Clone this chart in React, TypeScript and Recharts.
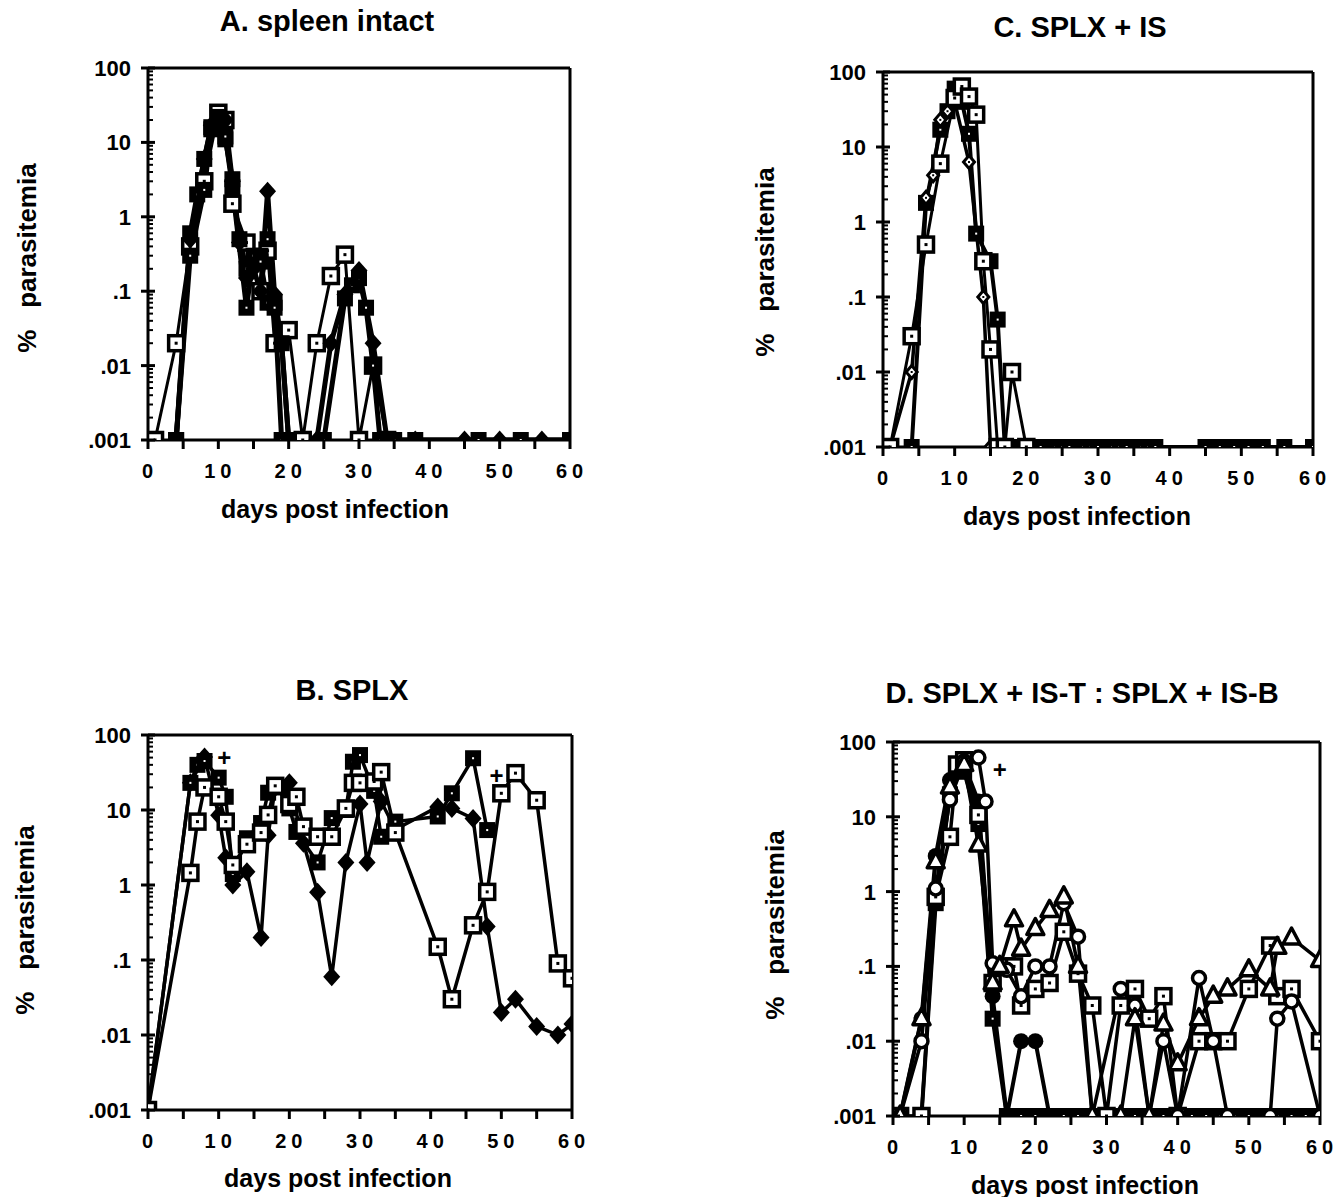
import React from 'react';
import { LineChart, Line, XAxis, YAxis, ReferenceLine, ReferenceDot } from 'recharts';

type Pt = [number, number];

// A. spleen intact
const aOpenSquare: Pt[] = [[1, .001], [4, .02], [6, .4], [8, 3], [10, 25], [11, 20], [12, 1.5], [14, .45], [16, .1], [17, .35], [18, .02], [20, .03], [22, .001], [24, .02], [26, .16], [28, .31], [30, .001], [32, .01], [34, .001]];
const aDiamond: Pt[] = [[4, .001], [6, .5], [8, 6], [9, 17], [10, 20], [11, 20], [12, 3], [13, .45], [14, .15], [15, .2], [16, .1], [17, 2.2], [18, .09], [19, .02], [20, .001], [24, .001], [26, .02], [28, .09], [30, .19], [32, .02], [34, .001], [38, .001], [45, .001], [50, .001], [56, .001], [60, .001]];
const aFilledSquare: Pt[] = [[4, .001], [6, .3], [8, 2.3], [9, 15], [10, 22], [11, 12], [12, 2.5], [14, .06], [15, .3], [16, .25], [17, .07], [18, .06], [19, .02], [20, .001], [25, .001], [28, .08], [29, .12], [30, .15], [31, .06], [32, .01], [33, .001], [35, .001], [38, .001], [47, .001], [53, .001], [60, .001]];
const aFilledSquare2: Pt[] = [[4, .001], [6, .6], [7, 2], [8, 6], [9, 16], [10, 18], [11, 11], [12, 3.2], [13, .5], [14, .2], [16, .3], [17, .5], [18, .07], [19, .001]];

// C. SPLX + IS
const cOpenSquare: Pt[] = [[1, .001], [4, .03], [6, .5], [8, 6], [10, 45], [11, 64], [12, 47], [13, 27], [14, .3], [15, .02], [16, .001], [17, .001], [18, .01], [20, .001]];
const cSmall: Pt[] = [[1, .001], [4, .01], [6, 2.1], [7, 4.2], [8, 23], [9, 30], [10, 40], [12, 6.3], [14, .1], [15, .001], [16, .001]];
const cFilledSquare: Pt[] = [[4, .001], [6, 1.8], [8, 17], [9, 30], [10, 60], [11, 40], [12, 15], [13, .7], [15, .3], [16, .05], [17, .001], [19, .001], [20, .001], [21, .001], [22, .001], [24, .001], [25, .001], [26, .001], [28, .001], [29, .001], [30, .001], [32, .001], [33, .001], [34, .001], [36, .001], [37, .001], [38, .001], [45, .001], [47, .001], [49, .001], [51, .001], [53, .001], [56, .001], [60, .001]];

// B. SPLX
const bDiamond: Pt[] = [[0, .001], [6, 23], [8, 51], [10, 8.5], [11, 2.3], [12, 1.0], [14, 1.5], [16, .2], [17, 4.6], [18, 20], [20, 23], [22, 3.6], [24, .8], [26, .06], [28, 2], [30, 12], [31, 2], [33, 13], [35, 5.5], [41, 11], [43, 10.5], [46, 7.7], [48, .28], [50, .02], [52, .03], [55, .013], [58, .01], [60, .014]];
const bOpenSquare: Pt[] = [[0, .001], [6, 1.45], [7, 7], [8, 20], [10, 15], [11, 7], [12, 1.85], [14, 3.5], [16, 5], [17, 8.6], [18, 21], [20, 12], [21, 15], [22, 6], [24, 4.4], [26, 4.4], [28, 10.5], [29, 23], [30, 23], [32, 24], [33, 32], [35, 5], [41, .15], [43, .03], [46, .29], [48, .81], [50, 16.7], [52, 31], [55, 13.5], [58, .09], [60, .057]];
const bFilledSquare: Pt[] = [[0, .001], [6, 23], [7, 40], [8, 45], [10, 27], [11, 15], [12, 1.4], [14, 4.2], [16, 6.7], [17, 17], [18, 21], [19, 20], [20, 10.5], [21, 5.1], [24, 2], [26, 7.8], [28, 10], [29, 44], [30, 54], [32, 18], [33, 4.4], [35, 7], [41, 8.2], [43, 16.7], [46, 49], [48, 5.4]];
const bDeaths: Pt[] = [[10.8, 50], [49.3, 28]];

// D. SPLX + IS-T : SPLX + IS-B
const dTriangle: Pt[] = [[1, .001], [4, .02], [6, 2.5], [8, 25], [10, 50], [12, 4.2], [14, .06], [15, .1], [17, .42], [18, .17], [20, .32], [22, .56], [24, .85], [26, .1], [28, .001], [32, .001], [34, .02], [36, .001], [38, .017], [40, .005], [43, .02], [45, .04], [47, .05], [50, .09], [53, .05], [54, .18], [56, .24], [60, .12]];
const dOpenCircle: Pt[] = [[1, .001], [4, .01], [6, 1.1], [8, 17], [10, 55], [12, 62], [13, 16], [14, .11], [16, .09], [18, .04], [20, .1], [22, .1], [24, .7], [26, .25], [28, .001], [32, .05], [34, .03], [36, .001], [38, .01], [40, .001], [43, .07], [45, .01], [47, .001], [53, .001], [54, .02], [56, .034], [60, .001]];
const dOpenSquare: Pt[] = [[1, .001], [4, .001], [6, .85], [8, 5.4], [9, 50], [10, 57], [12, 10.6], [14, .06], [16, .1], [17, .1], [18, .03], [20, .05], [22, .06], [24, .29], [26, .08], [28, .03], [30, .001], [32, .03], [34, .05], [36, .02], [38, .04], [40, .001], [43, .01], [45, .01], [47, .01], [50, .05], [53, .19], [54, .04], [56, .05], [60, .01]];
const dFilledCircle: Pt[] = [[1, .001], [4, .02], [6, 3], [8, 31], [10, 50], [12, 16], [14, .04], [16, .001], [18, .01], [20, .01], [22, .001]];
const dFilledSquare: Pt[] = [[4, .001], [6, .7], [8, 20], [9, 45], [10, 40], [12, 8], [14, .02], [16, .001], [18, .001], [20, .001], [22, .001], [24, .001], [26, .001], [28, .001], [30, .001], [32, .001], [34, .001], [36, .001], [38, .001], [40, .001], [42, .001], [44, .001], [46, .001], [48, .001], [50, .001], [52, .001], [54, .001], [56, .001], [58, .001], [60, .001]];
const dDeaths: Pt[] = [[15, 42]];

const xTicks = [0, 5, 10, 15, 20, 25, 30, 35, 40, 45, 50, 55, 60];
const yMajor = [0.001, 0.01, 0.1, 1, 10, 100];
const yTicks: number[] = [];
yMajor.forEach((m, i) => {
  yTicks.push(m);
  if (i < yMajor.length - 1) for (let k = 2; k <= 9; k++) yTicks.push(m * k);
});

const FONT = "'Liberation Sans', Arial, Helvetica, sans-serif";

const isMajor = (v: number) => yMajor.some((m) => Math.abs(v - m) / m < 1e-6);
const fmtY = (v: number) => (v >= 1 ? String(Math.round(v)) : String(v).replace(/^0/, ''));

const YTick = (props: any) => {
  const { x, y, payload } = props;
  const major = isMajor(payload.value);
  return (
    <g>
      <line x1={major ? x - 7 : x} x2={x + (major ? 7 : 5)} y1={y} y2={y} stroke="#000" strokeWidth={major ? 3 : 2} />
      {major && (
        <text x={x - 17} y={y} dy={8} textAnchor="end" fontFamily={FONT} fontWeight="bold" fontSize={22} fill="#000">
          {fmtY(payload.value)}
        </text>
      )}
    </g>
  );
};

const XTick = (props: any) => {
  const { x, y, payload } = props;
  const v = payload.value;
  return (
    <g>
      <line x1={x} x2={x} y1={y} y2={y + 9} stroke="#000" strokeWidth={3} />
      {v % 10 === 0 && (
        <text x={x} dx={2} y={y + 38} textAnchor="middle" fontFamily={FONT} fontWeight="bold" fontSize={20} letterSpacing={5} fill="#000">
          {v}
        </text>
      )}
    </g>
  );
};

type Kind = 'sqOpen' | 'sqFilled' | 'diamond' | 'circOpen' | 'circFilled' | 'triOpen' | 'small';

const Marker = ({ cx, cy, kind }: { cx?: number; cy?: number; kind: Kind }) => {
  if (cx == null || cy == null) return null;
  switch (kind) {
    case 'sqOpen':
      return (
        <g>
          <rect x={cx - 7.5} y={cy - 7.5} width={15} height={15} fill="#fff" stroke="#000" strokeWidth={3.5} />
          <rect x={cx - 1.5} y={cy - 1.5} width={3} height={3} fill="#000" />
        </g>
      );
    case 'sqFilled':
      return (
        <g>
          <rect x={cx - 8} y={cy - 8} width={16} height={16} fill="#000" />
          <rect x={cx - 1} y={cy - 1} width={2} height={2} fill="#fff" />
        </g>
      );
    case 'diamond':
      return <polygon points={`${cx},${cy - 9.5} ${cx + 8.5},${cy} ${cx},${cy + 9.5} ${cx - 8.5},${cy}`} fill="#000" />;
    case 'circOpen':
      return <circle cx={cx} cy={cy} r={6.5} fill="#fff" stroke="#000" strokeWidth={3.5} />;
    case 'circFilled':
      return <circle cx={cx} cy={cy} r={8} fill="#000" />;
    case 'triOpen':
      return <polygon points={`${cx},${cy - 10} ${cx + 8.5},${cy + 6} ${cx - 8.5},${cy + 6}`} fill="#fff" stroke="#000" strokeWidth={3.5} strokeLinejoin="round" />;
    case 'small':
      return (
        <g>
          <polygon points={`${cx},${cy - 6.5} ${cx + 5.5},${cy} ${cx},${cy + 6.5} ${cx - 5.5},${cy}`} fill="#fff" stroke="#000" strokeWidth={3} />
          <rect x={cx - 1} y={cy - 1} width={2} height={2} fill="#000" />
        </g>
      );
  }
  return null;
};

interface Series {
  name: string;
  data: Pt[];
  kind: Kind;
  width: number;
}

interface PanelProps {
  title: string;
  titlePos: [number, number];
  xLabelPos: [number, number];
  yLabelPos: [number, number];
  plot: { left: number; top: number; width: number; height: number };
  series: Series[];
  deaths?: Pt[];
}

const LEFT_SPACE = 130;
const TOP_SPACE = 12;
const RIGHT_SPACE = 24;
const BOTTOM_SPACE = 60;

const textStyle: React.CSSProperties = {
  position: 'absolute',
  fontFamily: FONT,
  fontWeight: 'bold',
  color: '#000',
  whiteSpace: 'pre',
  lineHeight: 1,
};

const Panel: React.FC<PanelProps> = ({ title, titlePos, xLabelPos, yLabelPos, plot, series, deaths }) => {
  return (
    <>
      <div style={{ ...textStyle, left: titlePos[0], top: titlePos[1], fontSize: 29, transform: 'translate(-50%, -50%)' }}>{title}</div>
      <div style={{ ...textStyle, left: xLabelPos[0], top: xLabelPos[1], fontSize: 25, transform: 'translate(-50%, -50%)' }}>days post infection</div>
      <div style={{ ...textStyle, left: yLabelPos[0], top: yLabelPos[1], fontSize: 26, transform: 'translate(-50%, -50%) rotate(-90deg)' }}>
        {'%   parasitemia'}
      </div>
      <div style={{ position: 'absolute', left: plot.left - LEFT_SPACE, top: plot.top - TOP_SPACE }}>
        <LineChart
          width={plot.width + LEFT_SPACE + RIGHT_SPACE}
          height={plot.height + TOP_SPACE + BOTTOM_SPACE}
          margin={{ top: TOP_SPACE, right: RIGHT_SPACE, left: 0, bottom: 0 }}
        >
          <XAxis
            type="number"
            dataKey="day"
            domain={[0, 60]}
            ticks={xTicks}
            interval={0}
            height={BOTTOM_SPACE}
            tick={<XTick />}
            tickLine={false}
            tickSize={0}
            tickMargin={0}
            axisLine={{ stroke: '#000', strokeWidth: 3 }}
            allowDataOverflow
          />
          <YAxis
            type="number"
            scale="log"
            domain={[0.001, 100]}
            ticks={yTicks}
            interval={0}
            width={LEFT_SPACE}
            tick={<YTick />}
            tickLine={false}
            tickSize={0}
            tickMargin={0}
            axisLine={{ stroke: '#000', strokeWidth: 3 }}
            allowDataOverflow
          />
          <ReferenceLine y={100} stroke="#000" strokeWidth={3} />
          <ReferenceLine x={60} stroke="#000" strokeWidth={3} />
          {series.map((s) => (
            <Line
              key={s.name}
              data={s.data.map(([day, v]) => ({ day, v }))}
              dataKey="v"
              type="linear"
              stroke="#000"
              strokeWidth={s.width}
              strokeLinejoin="round"
              dot={(p: any) => <Marker key={`${s.name}-${p.index}`} cx={p.cx} cy={p.cy} kind={s.kind} />}
              activeDot={false}
              isAnimationActive={false}
            />
          ))}
          {(deaths || []).map(([day, v], i) => (
            <ReferenceDot
              key={`d${i}`}
              x={day}
              y={v}
              r={0}
              shape={(p: any) => (
                <text x={p.cx} y={p.cy} dy={8} textAnchor="middle" fontFamily={FONT} fontWeight="bold" fontSize={24} fill="#000">
                  +
                </text>
              )}
            />
          ))}
        </LineChart>
      </div>
    </>
  );
};

export default function App() {
  return (
    <div style={{ position: 'absolute', left: 0, top: 0, width: 1344, height: 1197, background: '#fff', overflow: 'hidden' }}>
      <Panel
        title="A. spleen intact"
        titlePos={[327, 21]}
        xLabelPos={[335, 509]}
        yLabelPos={[27, 258]}
        plot={{ left: 148, top: 68, width: 422, height: 372 }}
        series={[
          { name: 'a1', data: aOpenSquare, kind: 'sqOpen', width: 3 },
          { name: 'a4', data: aFilledSquare2, kind: 'sqFilled', width: 5 },
          { name: 'a3', data: aFilledSquare, kind: 'sqFilled', width: 5 },
          { name: 'a2', data: aDiamond, kind: 'diamond', width: 5 },
        ]}
      />
      <Panel
        title="C. SPLX + IS"
        titlePos={[1080, 27]}
        xLabelPos={[1077, 516]}
        yLabelPos={[765, 262]}
        plot={{ left: 883, top: 72, width: 430, height: 375 }}
        series={[
          { name: 'c3', data: cFilledSquare, kind: 'sqFilled', width: 4 },
          { name: 'c2', data: cSmall, kind: 'small', width: 3.5 },
          { name: 'c1', data: cOpenSquare, kind: 'sqOpen', width: 3 },
        ]}
      />
      <Panel
        title="B. SPLX"
        titlePos={[352, 690]}
        xLabelPos={[338, 1178]}
        yLabelPos={[25, 920]}
        plot={{ left: 148, top: 735, width: 424, height: 375 }}
        series={[
          { name: 'b1', data: bDiamond, kind: 'diamond', width: 3.5 },
          { name: 'b3', data: bFilledSquare, kind: 'sqFilled', width: 3.5 },
          { name: 'b2', data: bOpenSquare, kind: 'sqOpen', width: 3.5 },
        ]}
        deaths={bDeaths}
      />
      <Panel
        title="D. SPLX + IS-T : SPLX + IS-B"
        titlePos={[1082, 693]}
        xLabelPos={[1085, 1185]}
        yLabelPos={[775, 925]}
        plot={{ left: 893, top: 742, width: 427, height: 374 }}
        series={[
          { name: 'd5', data: dFilledSquare, kind: 'sqFilled', width: 4 },
          { name: 'd4', data: dFilledCircle, kind: 'circFilled', width: 4 },
          { name: 'd3', data: dOpenSquare, kind: 'sqOpen', width: 3.5 },
          { name: 'd2', data: dOpenCircle, kind: 'circOpen', width: 3.5 },
          { name: 'd1', data: dTriangle, kind: 'triOpen', width: 3.5 },
        ]}
        deaths={dDeaths}
      />
    </div>
  );
}
